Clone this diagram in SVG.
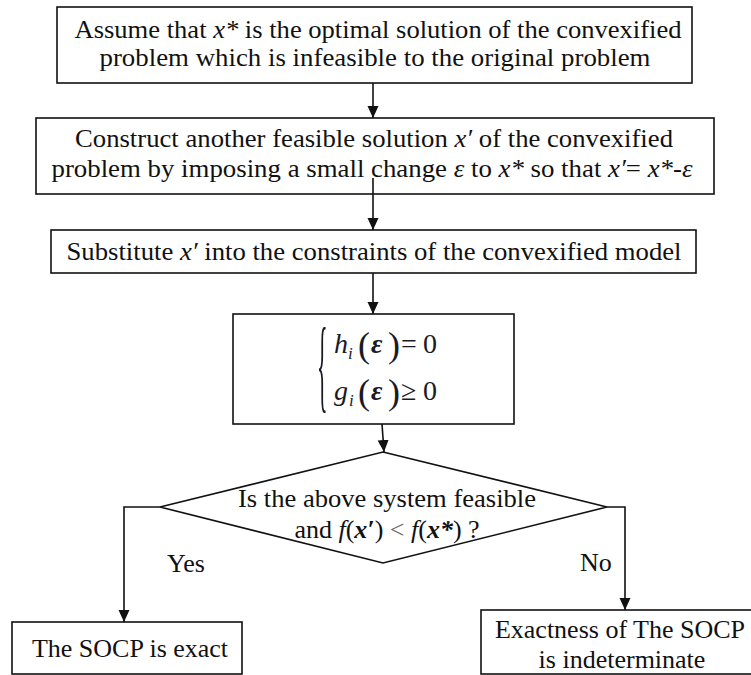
<svg xmlns="http://www.w3.org/2000/svg" width="751" height="675" viewBox="0 0 751 675">
<style>
.box{fill:#fff;stroke:#111;stroke-width:1.6}
.lbl{font-family:'Liberation Serif',serif;font-size:26px;fill:#111}
.mid{text-anchor:middle}
.it{font-style:italic}
.bit{font-style:italic;font-weight:bold}
.conn{fill:none;stroke:#111;stroke-width:1.6}
.eqn{font-family:'Liberation Serif',serif;font-size:28px;fill:#1a1a24}
</style>
<defs>
<marker id="ah" markerUnits="userSpaceOnUse" markerWidth="12" markerHeight="12" refX="12" refY="6" orient="auto" viewBox="0 0 12 12">
<path d="M0,0.5 L12,6 L0,11.5 z" fill="#111"/>
</marker>
</defs>
<rect width="751" height="675" fill="#fff"/>
<g id="n1">
<rect class="box" x="57" y="7" width="635" height="76"/>
<text class="lbl mid" x="378" y="38" textLength="607" lengthAdjust="spacingAndGlyphs">Assume that <tspan class="it">x*</tspan> is the optimal solution of the convexified</text>
<text class="lbl mid" x="375" y="66" textLength="551" lengthAdjust="spacingAndGlyphs">problem which is infeasible to the original problem</text>
</g>
<g id="n2">
<rect class="box" x="36" y="118" width="678" height="76"/>
<text class="lbl mid" x="374" y="147" textLength="598" lengthAdjust="spacingAndGlyphs">Construct another feasible solution <tspan class="it">x′</tspan> of the convexified</text>
<text class="lbl mid" x="372" y="177" textLength="641" lengthAdjust="spacingAndGlyphs">problem by imposing a small change <tspan class="it">ε</tspan> to <tspan class="it">x*</tspan> so that <tspan class="it">x′</tspan>= <tspan class="it">x*</tspan>-<tspan class="it">ε</tspan></text>
</g>
<g id="n3">
<rect class="box" x="51" y="230" width="645" height="43"/>
<text class="lbl mid" x="374" y="260" textLength="615" lengthAdjust="spacingAndGlyphs">Substitute <tspan class="it">x′</tspan> into the constraints of the convexified model</text>
</g>
<g id="n4">
<rect class="box" x="233" y="314" width="281" height="110"/>
<text class="eqn" transform="translate(317,399) scale(0.55,2.62)" style="font-size:40px">{</text>
<text class="eqn" y="353"><tspan class="it" x="334">h</tspan><tspan class="it" x="348" y="359" style="font-size:17px">i</tspan><tspan x="358" y="357" style="font-size:36px">(</tspan><tspan class="bit" x="371" y="353">ε</tspan><tspan x="388" y="357" style="font-size:36px">)</tspan><tspan x="401" y="353">=</tspan><tspan x="423" y="353">0</tspan></text>
<text class="eqn" y="400"><tspan class="it" x="334">g</tspan><tspan class="it" x="349" y="406" style="font-size:17px">i</tspan><tspan x="358" y="404" style="font-size:36px">(</tspan><tspan class="bit" x="371" y="400">ε</tspan><tspan x="388" y="404" style="font-size:36px">)</tspan><tspan x="401" y="400">≥</tspan><tspan x="423" y="400">0</tspan></text>
</g>
<g id="n5">
<polygon class="box" points="383,452 607,507 383,563 160,507"/>
<text class="lbl mid" x="387" y="507" textLength="298" lengthAdjust="spacingAndGlyphs">Is the above system feasible</text>
<text class="lbl mid" x="387" y="538">and <tspan class="it">f</tspan>(<tspan class="bit">x′</tspan>) <tspan fill="#666">&lt;</tspan> <tspan class="it">f</tspan>(<tspan class="bit">x*</tspan>) ?</text>
</g>
<g id="n6">
<rect class="box" x="12" y="622" width="230" height="52"/>
<text class="lbl mid" x="130" y="657">The SOCP is exact</text>
</g>
<g id="n7">
<rect class="box" x="481" y="610" width="272" height="64"/>
<text class="lbl mid" x="620" y="638">Exactness of The SOCP</text>
<text class="lbl mid" x="622" y="668">is indeterminate</text>
</g>
<g id="connectors">
<line class="conn" x1="373" y1="83" x2="373" y2="118" marker-end="url(#ah)"/>
<line class="conn" x1="373" y1="178" x2="373" y2="230" marker-end="url(#ah)"/>
<line class="conn" x1="373" y1="273" x2="373" y2="314" marker-end="url(#ah)"/>
<line class="conn" x1="382" y1="424" x2="384" y2="452" marker-end="url(#ah)"/>
<polyline class="conn" points="160,507 124,507 124,622" marker-end="url(#ah)"/>
<polyline class="conn" points="607,507 625,507 625,610" marker-end="url(#ah)"/>
<text class="lbl" x="167" y="572">Yes</text>
<text class="lbl" x="580" y="571">No</text>
</g>
</svg>
